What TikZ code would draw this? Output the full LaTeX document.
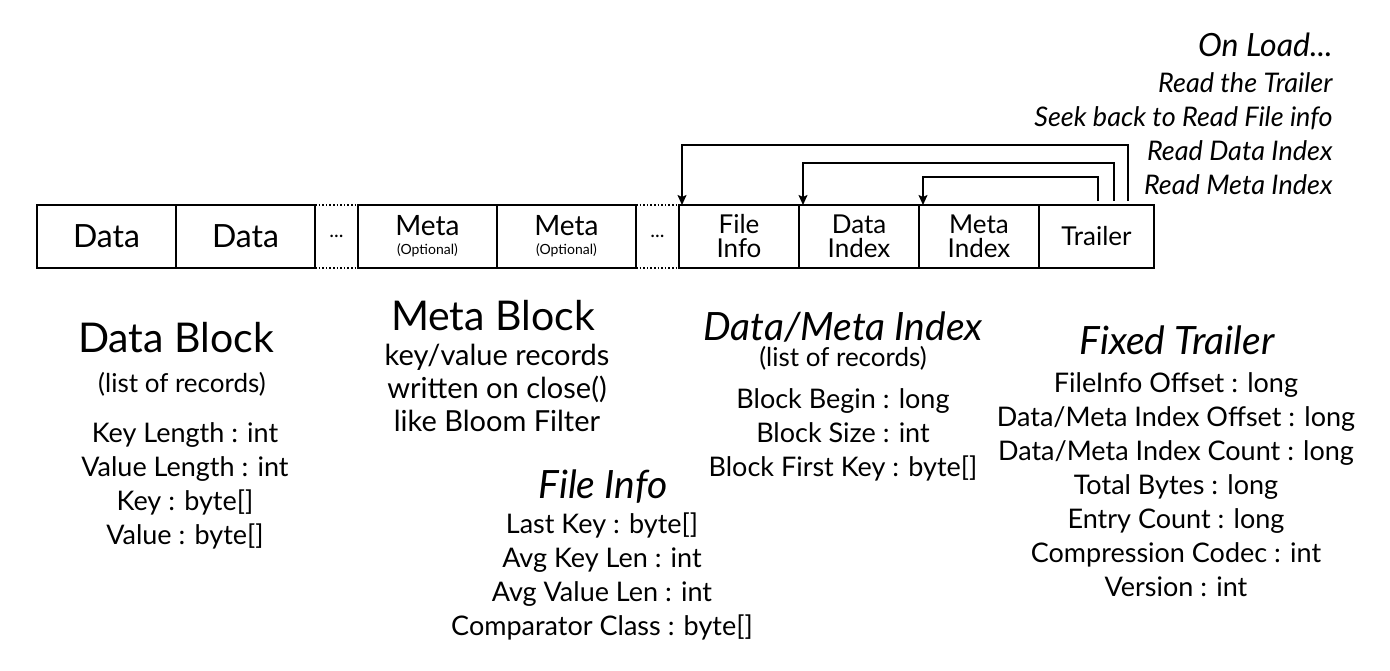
\documentclass[tikz,border=0pt]{standalone}
\usepackage{fontspec}
\setmainfont{Lato}
\usetikzlibrary{arrows.meta,positioning}

\tikzset{
  blk/.style={draw,line width=1.6pt,minimum height=63pt,inner sep=0pt,outer sep=0pt,
              align=center,font=\fontsize{26}{25}\selectfont},
  gap/.style={minimum height=63pt,minimum width=43pt,inner sep=0pt,outer sep=0pt,
              font=\fontsize{20}{24}\selectfont},
  head/.style={font=\fontsize{41}{44}\selectfont},
  ihead/.style={font=\fontsize{39}{42}\selectfont\itshape},
  sub/.style={font=\fontsize{26}{28}\selectfont},
  fields/.style={align=center,font=\fontsize{27}{34}\selectfont},
  conn/.style={->,line width=1.6pt,shorten <=4pt},
}
\newcommand{\opt}{\\[-6pt]{\fontsize{14}{14}\selectfont (Optional)}}

\begin{document}
\begin{tikzpicture}[x=1pt,y=-1pt,>={Stealth[length=10pt,width=9pt,inset=2pt]}]
  \useasboundingbox (0,0) rectangle (1390,670);

  % the file, block by block
  \node[blk,minimum width=139pt,anchor=west] (d1) at (37,236.5) {\fontsize{32}{32}\selectfont Data};
  \node[blk,minimum width=139pt] (d2) [right=0pt of d1] {\fontsize{32}{32}\selectfont Data};
  \node[gap]                     (g1) [right=0pt of d2] {...};
  \node[blk,minimum width=139pt] (m1) [right=0pt of g1] {\fontsize{28}{28}\selectfont Meta\opt};
  \node[blk,minimum width=139pt] (m2) [right=0pt of m1] {\fontsize{28}{28}\selectfont Meta\opt};
  \node[gap]                     (g2) [right=0pt of m2] {...};
  \node[blk,minimum width=120pt] (fi) [right=0pt of g2] {File\\[-1pt]Info};
  \node[blk,minimum width=120pt] (di) [right=0pt of fi] {Data\\[-1pt]Index};
  \node[blk,minimum width=120pt] (mi) [right=0pt of di] {Meta\\[-1pt]Index};
  \node[blk,minimum width=115pt] (tr) [right=0pt of mi] {Trailer};

  \draw[line width=1.6pt,dotted] (d2.north east) -- (m1.north west)
                                 (d2.south east) -- (m1.south west)
                                 (m2.north east) -- (fi.north west)
                                 (m2.south east) -- (fi.south west);

  % on load
  \draw[conn] ([xshift=-26pt]tr.north east) -- ++(0,-60) -| ([xshift=3pt]fi.north west);
  \draw[conn] ([xshift=-40pt]tr.north east) -- ++(0,-42) -| ([xshift=4pt]di.north west);
  \draw[conn] ([xshift=-56pt]tr.north east) -- ++(0,-28) -| ([xshift=4pt]mi.north west);

  \node[anchor=east,font=\fontsize{32}{34}\selectfont\itshape] (load) at (1336,45) {On Load...};
  \node[anchor=east,align=right,font=\fontsize{27}{34}\selectfont\itshape] (steps) at (1336,134)
       {Read the Trailer\\Seek back to Read File info\\Read Data Index\\Read Meta Index};

  % descriptions
  \node[head]   (dbh) at (176,338) {Data Block};
  \node[sub]    (dbs) at (182,384) {(list of records)};
  \node[fields] (dbf) at (185,486) {Key Length : int\\Value Length : int\\Key : byte[]\\Value : byte[]};

  \node[head]   (mbh) at (493,316) {Meta Block};
  \node[fields,font=\fontsize{29}{33}\selectfont] (mbf) at (497,388)
       {key/value records\\written on close()\\like Bloom Filter};

  \node[ihead]  (ixh) at (843,327) {Data/Meta Index};
  \node[sub]    (ixs) at (843,358) {(list of records)};
  \node[fields] (ixf) at (843,435) {Block Begin : long\\Block Size : int\\Block First Key : byte[]};

  \node[ihead]  (fih) at (603,487) {File Info};
  \node[fields] (fif) at (602,576) {Last Key : byte[]\\Avg Key Len : int\\Avg Value Len : int\\Comparator Class : byte[]};

  \node[ihead]  (fth) at (1177,340) {Fixed Trailer};
  \node[fields] (ftf) at (1176,485) {FileInfo Offset : long\\Data/Meta Index Offset : long\\Data/Meta Index Count : long\\Total Bytes : long\\Entry Count : long\\Compression Codec : int\\Version : int};
\end{tikzpicture}
\end{document}
